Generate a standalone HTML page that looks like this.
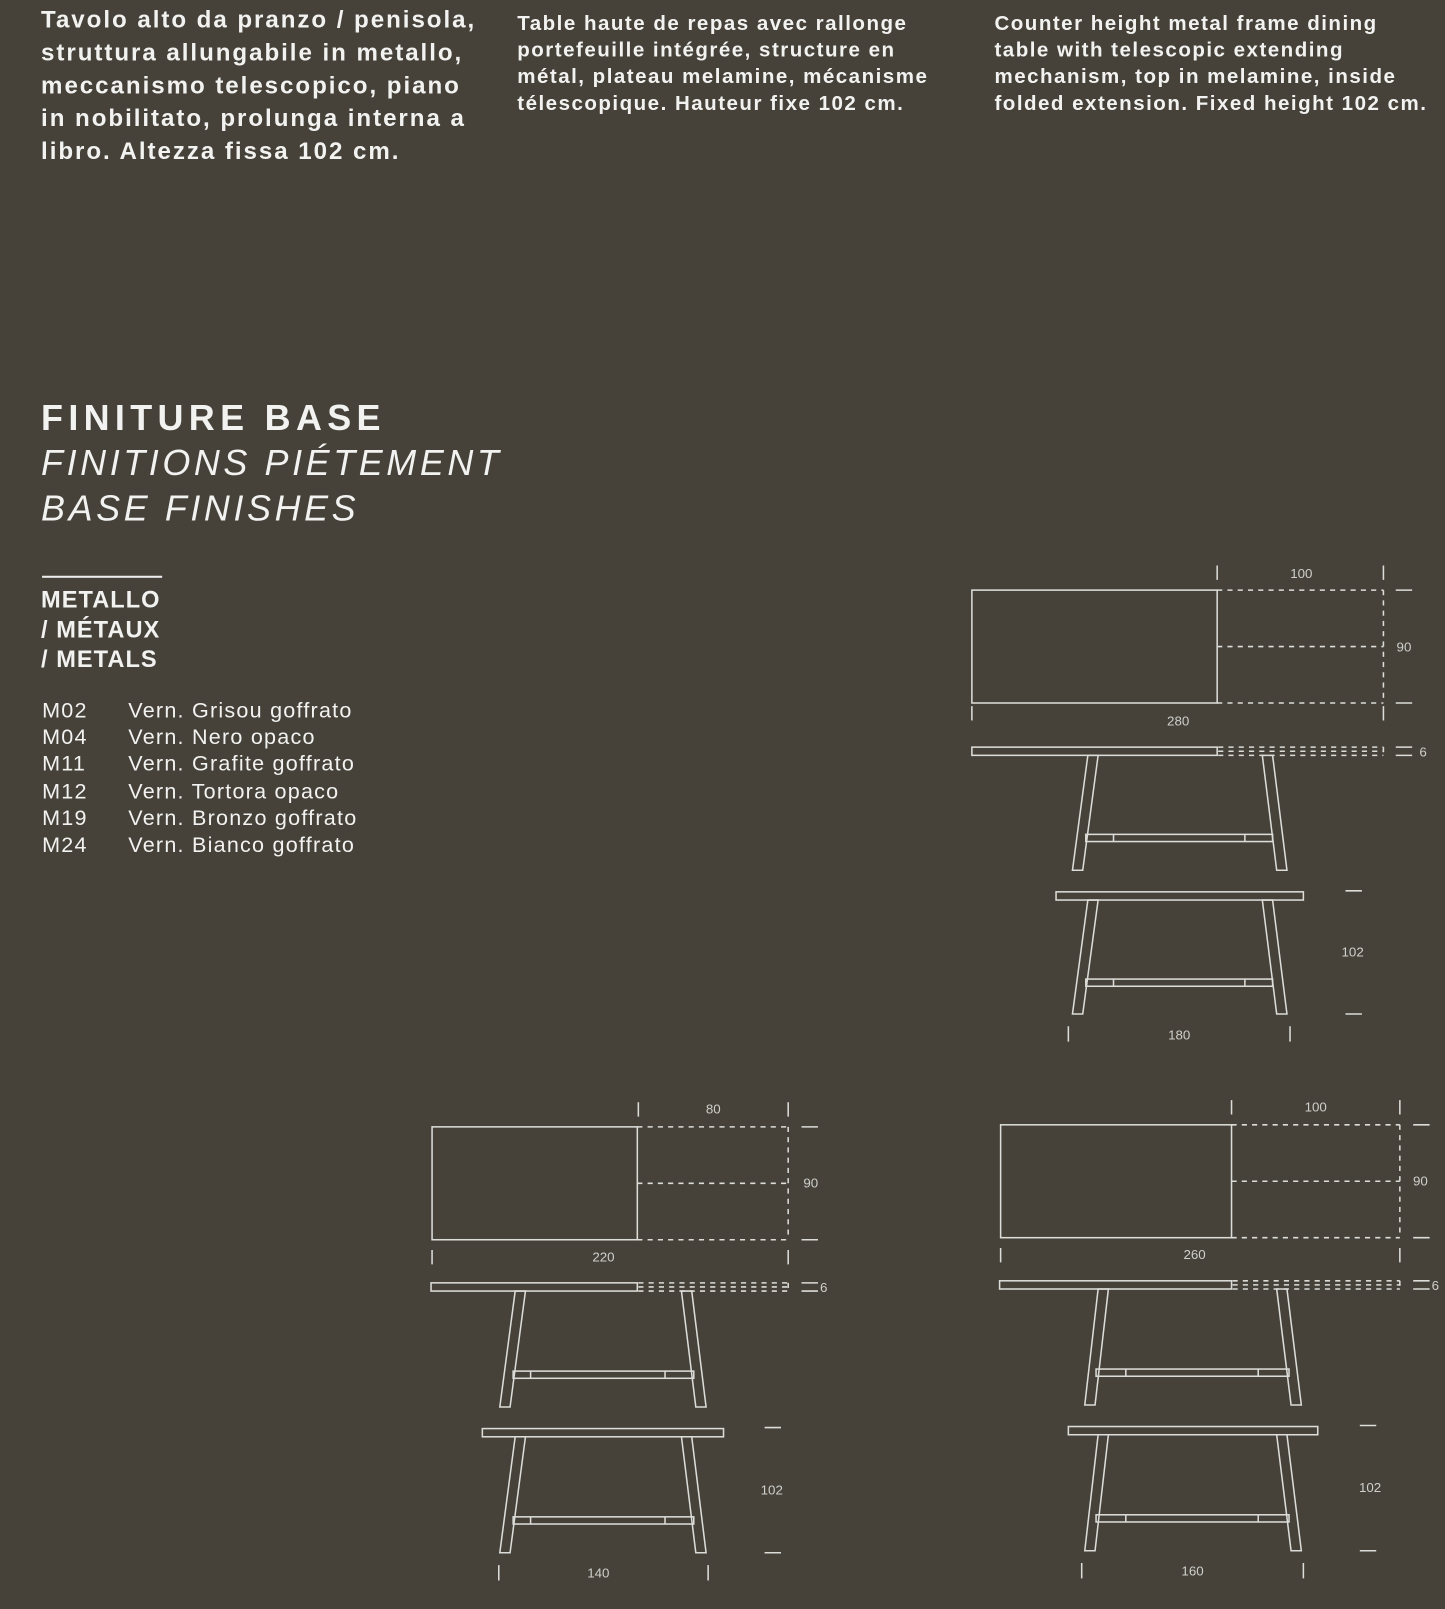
<!DOCTYPE html>
<html><head><meta charset="utf-8"><style>
html,body{margin:0;padding:0;background:#46423a;}
body{width:1445px;height:1609px;overflow:hidden;}
#w{position:absolute;left:0;top:0;width:1408px;height:1568px;transform:scale(1.02628);transform-origin:0 0;font-family:"Liberation Sans",sans-serif;color:#f2f2f0;}
.t{position:absolute;white-space:nowrap;}
.c1{left:40px;top:3px;font-size:23.5px;font-weight:bold;line-height:32px;letter-spacing:1.9px;}
.c2{top:10px;font-size:20px;font-weight:bold;line-height:26px;letter-spacing:1.45px;}
.h1{left:40px;top:388px;font-size:35px;font-weight:bold;letter-spacing:5.2px;}
.h2{left:40px;font-size:35px;font-style:italic;letter-spacing:3.5px;font-weight:normal;}
.m{left:40px;top:570px;font-size:23px;font-weight:bold;line-height:29px;letter-spacing:1px;}
.l{font-size:21px;line-height:26.2px;top:680px;letter-spacing:1.2px;}
svg{position:absolute;left:0;top:0;}
</style></head><body><div id="w">
<div class="t c1">Tavolo alto da pranzo / penisola,<br>struttura allungabile in metallo,<br>meccanismo telescopico, piano<br>in nobilitato, prolunga interna a<br>libro. Altezza fissa 102 cm.</div>
<div class="t c2" style="left:504px">Table haute de repas avec rallonge<br>portefeuille intégrée, structure en<br>métal, plateau melamine, mécanisme<br>télescopique. Hauteur fixe 102 cm.</div>
<div class="t c2" style="left:969px">Counter height metal frame dining<br>table with telescopic extending<br>mechanism, top in melamine, inside<br>folded extension. Fixed height 102 cm.</div>
<div class="t h1">FINITURE BASE</div>
<div class="t h2" style="top:432px">FINITIONS PIÉTEMENT</div>
<div class="t h2" style="top:476px">BASE FINISHES</div>
<div style="position:absolute;left:41px;top:561px;width:117px;height:2px;background:#eee"></div>
<div class="t m">METALLO<br>/ MÉTAUX<br>/ METALS</div>
<div class="t l" style="left:41px">M02<br>M04<br>M11<br>M12<br>M19<br>M24</div>
<div class="t l" style="left:125px">Vern. Grisou goffrato<br>Vern. Nero opaco<br>Vern. Grafite goffrato<br>Vern. Tortora opaco<br>Vern. Bronzo goffrato<br>Vern. Bianco goffrato</div>
<svg width="1408" height="1568" viewBox="0 0 1408 1568" fill="none" stroke="#dcdcd8" stroke-width="1.5" font-family="Liberation Sans, sans-serif" font-size="13">
<g>
<rect x="947" y="575" width="239" height="110"/>
<g stroke-dasharray="5,5"><path d="M1186 575H1348M1186 630H1348M1186 685H1348M1348 575V685"/>
<path d="M1187 728H1348M1187 732H1348M1187 736H1348M1348 728V736"/></g>
<path d="M1186 551V565M1348 551V565M1360 575H1376M1360 685H1376M947 688V702M1348 688V702M1360 728H1376M1360 736H1376"/>
<rect x="947" y="728" width="239" height="8"/>
<path d="M1060 736H1070L1055 848H1045ZM1230 736H1240L1254 848H1244Z"/>
<rect x="1058" y="813" width="182" height="7"/><path d="M1085 813V820M1213 813V820"/>
<rect x="1029" y="869" width="241" height="8"/>
<path d="M1060 877H1070L1055 988H1045ZM1230 877H1240L1254 988H1244Z"/>
<rect x="1058" y="954" width="182" height="7"/><path d="M1085 954V961M1213 954V961"/>
<path d="M1311 868H1327M1311 988H1327M1041 1000V1015M1257 1000V1015"/>
<rect x="421" y="1098" width="200" height="110"/>
<g stroke-dasharray="5,5"><path d="M621 1098H768M621 1153H768M621 1208H768M768 1098V1208"/>
<path d="M622 1250H768M622 1254H768M622 1258H768M768 1250V1258"/></g>
<path d="M622 1074V1088M768 1074V1088M781 1098H797M781 1208H797M421 1218V1232M768 1218V1232M781 1250H797M781 1258H797"/>
<rect x="420" y="1250" width="201" height="8"/>
<path d="M502 1258H512L497 1371H487ZM664 1258H674L688 1371H678Z"/>
<rect x="500" y="1336" width="176" height="7"/><path d="M517 1336V1343M648 1336V1343"/>
<rect x="470" y="1392" width="235" height="8"/>
<path d="M502 1400H512L497 1513H487ZM664 1400H674L688 1513H678Z"/>
<rect x="500" y="1478" width="176" height="7"/><path d="M517 1478V1485M648 1478V1485"/>
<path d="M745 1391H761M745 1513H761M486 1525V1540M690 1525V1540"/>
<rect x="975" y="1096" width="225" height="110"/>
<g stroke-dasharray="5,5"><path d="M1200 1096H1364M1200 1151H1364M1200 1206H1364M1364 1096V1206"/>
<path d="M1201 1248H1364M1201 1252H1364M1201 1256H1364M1364 1248V1256"/></g>
<path d="M1200 1072V1086M1364 1072V1086M1377 1096H1393M1377 1206H1393M975 1216V1230M1364 1216V1230M1377 1248H1393M1377 1256H1393"/>
<rect x="974" y="1248" width="226" height="8"/>
<path d="M1070 1256H1080L1067 1369H1057ZM1244 1256H1254L1268 1369H1258Z"/>
<rect x="1068" y="1334" width="188" height="7"/><path d="M1097 1334V1341M1226 1334V1341"/>
<rect x="1041" y="1390" width="243" height="8"/>
<path d="M1070 1398H1080L1067 1511H1057ZM1244 1398H1254L1268 1511H1258Z"/>
<rect x="1068" y="1476" width="188" height="7"/><path d="M1097 1476V1483M1226 1476V1483"/>
<path d="M1325 1389H1341M1325 1511H1341M1054 1523V1538M1270 1523V1538"/>
</g>
<g fill="#cfcfcb" stroke="none" text-anchor="middle">
<text x="1268" y="563">100</text><text x="1368" y="635">90</text><text x="1148" y="707">280</text><text x="1383" y="737" text-anchor="start">6</text>
<text x="1318" y="932">102</text><text x="1149" y="1013">180</text>
<text x="695" y="1085">80</text><text x="790" y="1157">90</text><text x="588" y="1229">220</text><text x="799" y="1259" text-anchor="start">6</text>
<text x="752" y="1456">102</text><text x="583" y="1537">140</text>
<text x="1282" y="1083">100</text><text x="1384" y="1155">90</text><text x="1164" y="1227">260</text><text x="1395" y="1257" text-anchor="start">6</text>
<text x="1335" y="1454">102</text><text x="1162" y="1535">160</text>
</g>
</svg>
</div></body></html>
